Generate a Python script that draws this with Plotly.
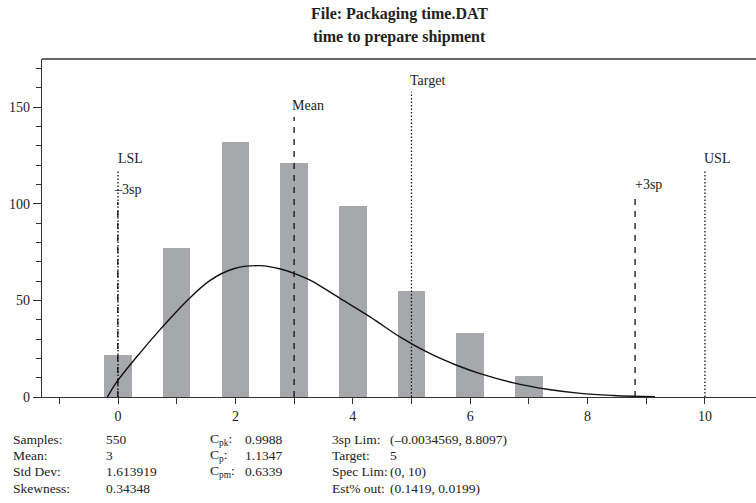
import plotly.graph_objects as go

# ---- data -------------------------------------------------------------
bin_centers = [0, 1, 2, 3, 4, 5, 6, 7]
bin_counts = [22, 77, 132, 121, 99, 55, 33, 11]

# fitted density curve (scaled to counts)
curve_x = [-0.18, -0.02, 0.38, 0.72, 1.18, 1.57, 1.97, 2.42, 2.77, 3.0, 3.28,
           3.79, 4.3, 4.81, 5.32, 5.78, 6.17, 6.74, 7.31, 7.88, 8.44, 8.78, 9.15]
curve_y = [0, 7.8, 23, 35, 50, 60.4, 66.4, 68, 66.3, 64.0, 60.4,
           50.9, 41.4, 31, 22.4, 16.3, 12.1, 7.3, 4.0, 1.9, 0.8, 0.4, 0.15]

ref_names = ["LSL", "\u20133sp", "Mean", "Target", "+3sp", "USL"]
ref_values = [0, -0.0034569, 3, 5, 8.8097, 10]

stat_labels_1 = ["Samples:", "Mean:", "Std Dev:", "Skewness:"]
stat_values_1 = ["550", "3", "1.613919", "0.34348"]
stat_labels_2 = ["C<sub>pk</sub>:", "C<sub>p</sub>:", "C<sub>pm</sub>:", ""]
stat_values_2 = ["0.9988", "1.1347", "0.6339", ""]
stat_labels_3 = ["3sp Lim:", "Target:", "Spec Lim:", "Est% out:"]
stat_values_3 = ["(\u20130.0034569, 8.8097)", "5", "(0, 10)", "(0.1419, 0.0199)"]

title_lines = ["File: Packaging time.DAT", "time to prepare shipment"]

# ---- styling ----------------------------------------------------------
FONT = "Liberation Serif, Times New Roman, serif"
INK = "#222222"
AXIS = "#333333"
W, H = 756, 503
ML, MR, MT, MB = 42, 0, 59, 106
PW, PH = W - ML - MR, H - MT - MB

# line style per reference marker: (top value, dash, label x shift, label y shift)
ref_style = {
    "LSL": (117, "1.5px,2px", -2, 13),
    "\u20133sp": (101, "6px,6px", -6, 12),
    "Mean": (145, "6px,6px", -4, 11),
    "Target": (158, "1.5px,2px", -3, 11),
    "+3sp": (105, "6px,6px", -2, 10),
    "USL": (117, "1.5px,2px", -3, 13),
}


def px_x(px):
    return (px - ML) / PW


def px_y(py):
    return (H - MB - py) / PH


fig = go.Figure()

fig.add_trace(go.Bar(
    x=bin_centers, y=bin_counts, width=0.47,
    marker=dict(color="#a7a8ab", line=dict(width=0)),
    hoverinfo="skip", showlegend=False,
))

fig.add_trace(go.Scatter(
    x=curve_x, y=curve_y, mode="lines",
    line=dict(color="#111111", width=1.4, shape="spline", smoothing=1.0),
    hoverinfo="skip", showlegend=False,
))

annotations = []
shapes = []
for name, xv in zip(ref_names, ref_values):
    top, dash, xs, ys = ref_style[name]
    shapes.append(dict(type="line", xref="x", yref="y", x0=xv, x1=xv, y0=0, y1=top,
                       line=dict(color="#111111", width=1.3, dash=dash)))
    annotations.append(dict(x=xv, y=top, xref="x", yref="y", text=name,
                            showarrow=False, xanchor="left", yanchor="middle",
                            xshift=xs, yshift=ys,
                            font=dict(family=FONT, size=14, color=INK)))

# top frame line
shapes.append(dict(type="line", xref="paper", yref="paper", x0=0, x1=1, y0=1, y1=1,
                   line=dict(color=AXIS, width=1.3)))

# title
for line, py in zip(title_lines, [14, 37]):
    annotations.append(dict(x=0.5, y=px_y(py), xref="paper", yref="paper",
                            text="<b>" + line + "</b>", showarrow=False,
                            xanchor="center", yanchor="middle",
                            font=dict(family=FONT, size=16, color=INK)))

# statistics block
row_py = [439, 455.5, 472, 488.5]
columns = [(stat_labels_1, 11), (stat_values_1, 104), (stat_labels_2, 208),
           (stat_values_2, 243), (stat_labels_3, 330), (stat_values_3, 388)]
for texts, cx in columns:
    for t, py in zip(texts, row_py):
        if not t:
            continue
        annotations.append(dict(x=px_x(cx), y=px_y(py), xref="paper", yref="paper",
                                text=t, showarrow=False, xanchor="left",
                                yanchor="middle",
                                font=dict(family=FONT, size=13.5, color=INK)))

fig.update_layout(
    width=W, height=H,
    margin=dict(l=ML, r=MR, t=MT, b=MB, pad=0),
    paper_bgcolor="white", plot_bgcolor="white",
    bargap=0, showlegend=False,
    font=dict(family=FONT, size=14, color=INK),
    shapes=shapes, annotations=annotations,
)

fig.update_xaxes(
    range=[-1.295, 10.87], showgrid=False, zeroline=False,
    showline=True, linecolor=AXIS, linewidth=1.3,
    ticks="outside", ticklen=6, tickwidth=1.2, tickcolor=AXIS,
    tick0=0, dtick=2,
    minor=dict(dtick=1, tick0=0, ticks="outside", ticklen=6, tickwidth=1.2,
               tickcolor=AXIS, showgrid=False),
    tickfont=dict(family=FONT, size=14, color=INK),
)
fig.update_yaxes(
    range=[0, 175], showgrid=False, zeroline=False,
    showline=True, linecolor=AXIS, linewidth=1.3,
    ticks="outside", ticklen=8, tickwidth=1.2, tickcolor=AXIS,
    tick0=0, dtick=50,
    minor=dict(dtick=10, tick0=0, ticks="outside", ticklen=5, tickwidth=1.2,
               tickcolor=AXIS, showgrid=False),
    tickfont=dict(family=FONT, size=14, color=INK),
)

fig.write_html("out.html")
